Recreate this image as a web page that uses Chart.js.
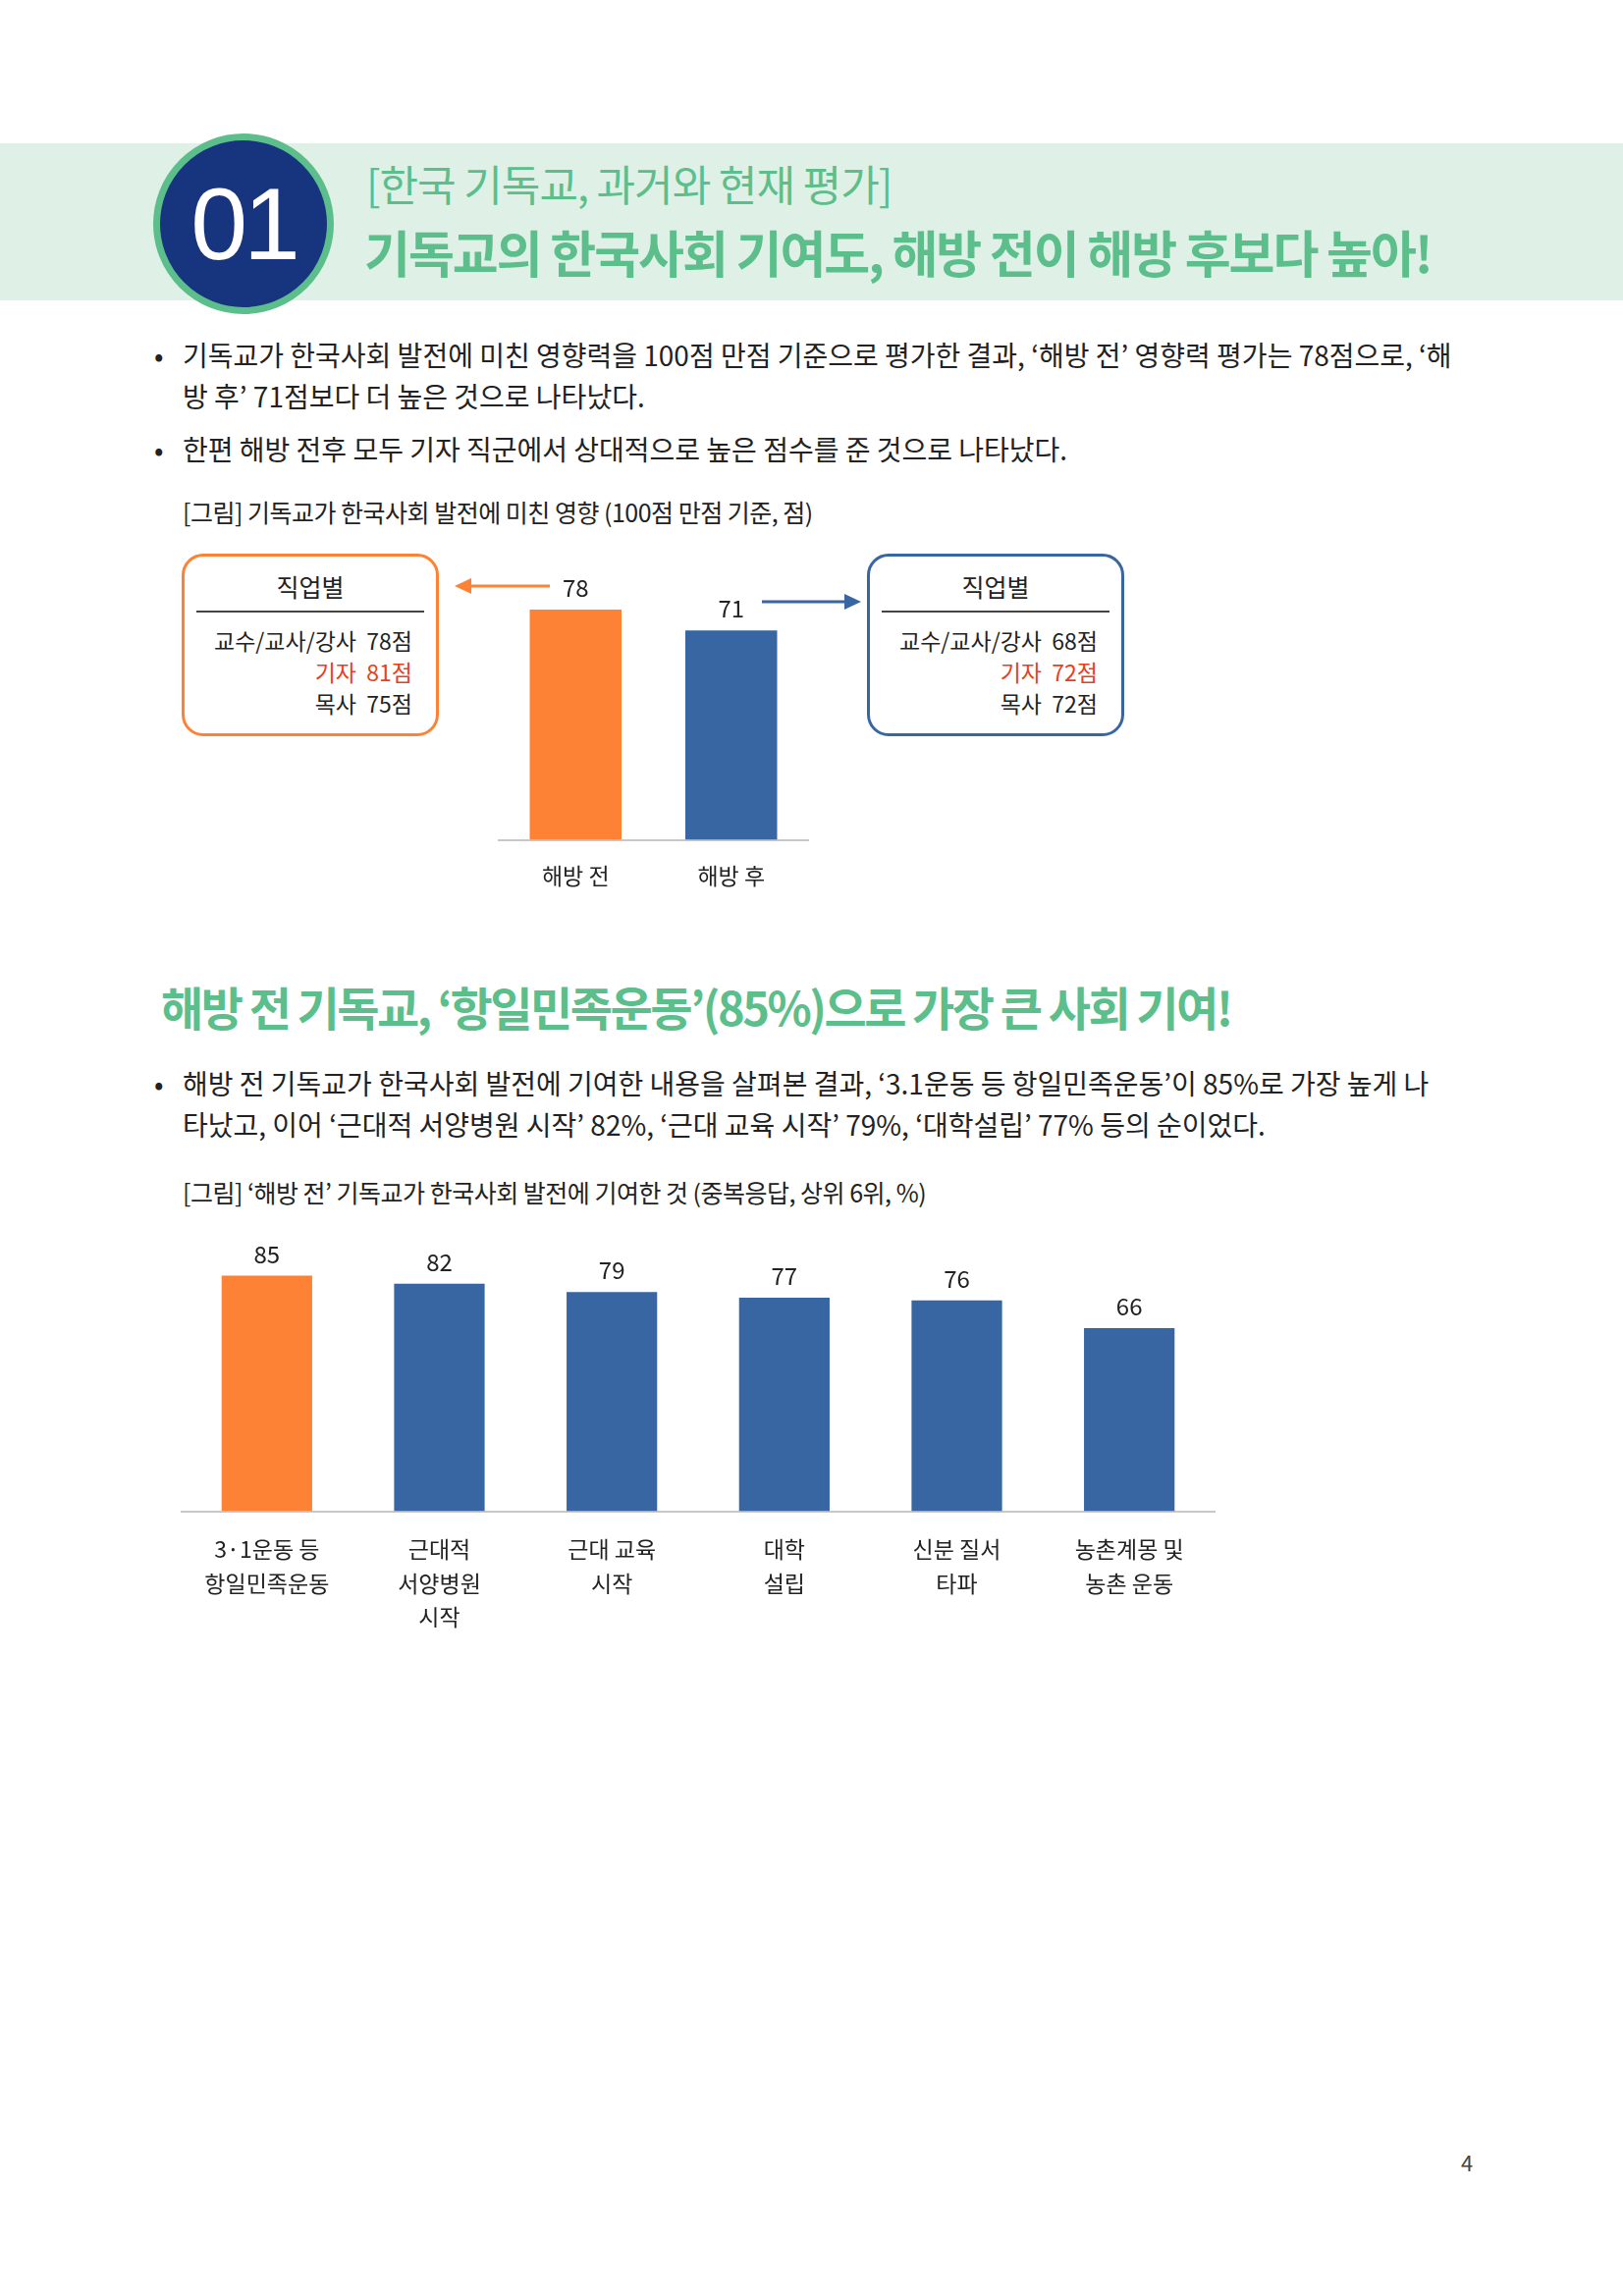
<!DOCTYPE html>
<html><head><meta charset="utf-8">
<script src="https://cdn.jsdelivr.net/npm/chart.js@4/dist/chart.umd.min.js"></script>
<style>
body{margin:0;width:1653px;height:2339px;position:relative;background:#fff;font-family:"Noto Sans CJK KR",sans-serif;color:#222;overflow:hidden}
.a{position:absolute;white-space:nowrap}
.band{left:0;top:146px;width:1653px;height:160px;background:#dff0e6}
.circ{left:156px;top:136px;width:170px;height:170px;border-radius:50%;background:#17347f;border:7px solid #5cbf8b;color:#fff;font-size:104px;line-height:170px;text-align:center;font-family:"Liberation Sans",sans-serif;letter-spacing:-4px}
.g{color:#5cbf8b}
.t{font-size:28px;line-height:42px;letter-spacing:0px}
.cap{font-size:25px;letter-spacing:-0.5px}
.box{position:absolute;top:564px;width:256px;height:180px;border:3px solid;border-radius:22px}
.box .h{position:absolute;left:0;right:0;top:12px;text-align:center;font-size:25px}
.box .r{position:absolute;left:12px;right:12px;top:55px;border-top:2px solid #444}
.box .l{position:absolute;right:24px;font-size:23px;text-align:right}
.red{color:#e8401c}
</style></head><body>
<div class="a band"></div>
<div class="a circ">01</div>
<div class="a g" style="left:373px;top:158px;font-size:43px;letter-spacing:-1px;line-height:56px">[한국 기독교, 과거와 현재 평가]</div>
<div class="a g" style="left:371px;top:224px;font-size:51px;font-weight:bold;letter-spacing:-2px;line-height:64px">기독교의 한국사회 기여도, 해방 전이 해방 후보다 높아!</div>

<div class="a t" style="left:157px;top:340px">•</div>
<div class="a t" style="left:186px;top:340px">기독교가 한국사회 발전에 미친 영향력을 100점 만점 기준으로 평가한 결과, ‘해방 전’ 영향력 평가는 78점으로, ‘해<br>방 후’ 71점보다 더 높은 것으로 나타났다.</div>
<div class="a t" style="left:157px;top:436px">•</div>
<div class="a t" style="left:186px;top:436px">한편 해방 전후 모두 기자 직군에서 상대적으로 높은 점수를 준 것으로 나타났다.</div>
<div class="a cap" style="left:186px;top:503px">[그림] 기독교가 한국사회 발전에 미친 영향 (100점 만점 기준, 점)</div>

<div class="box" style="left:185px;border-color:#fd8235">
 <div class="h">직업별</div><div class="r"></div>
 <div class="l" style="top:68px">교수/교사/강사&nbsp;&nbsp;78점</div>
 <div class="l red" style="top:100px">기자&nbsp;&nbsp;81점</div>
 <div class="l" style="top:132px">목사&nbsp;&nbsp;75점</div>
</div>
<div class="box" style="left:883px;border-color:#3766a3">
 <div class="h">직업별</div><div class="r"></div>
 <div class="l" style="top:68px">교수/교사/강사&nbsp;&nbsp;68점</div>
 <div class="l red" style="top:100px">기자&nbsp;&nbsp;72점</div>
 <div class="l" style="top:132px">목사&nbsp;&nbsp;72점</div>
</div>
<svg class="a" style="left:0;top:0" width="1653" height="900">
 <line x1="560" y1="597" x2="478" y2="597" stroke="#fd8235" stroke-width="3"/>
 <polygon points="463,597 480,589 480,605" fill="#fd8235"/>
 <line x1="776" y1="613" x2="862" y2="613" stroke="#3766a3" stroke-width="3"/>
 <polygon points="877,613 860,605 860,621" fill="#3766a3"/>
</svg>
<div class="a" style="left:507px;top:542px;width:317px;height:380px"><canvas id="c1"></canvas></div>

<div class="a g" style="left:164px;top:990px;font-size:47px;font-weight:bold;letter-spacing:-2.5px">해방 전 기독교, ‘항일민족운동’(85%)으로 가장 큰 사회 기여!</div>
<div class="a t" style="left:157px;top:1082px">•</div>
<div class="a t" style="left:186px;top:1082px">해방 전 기독교가 한국사회 발전에 기여한 내용을 살펴본 결과, ‘3.1운동 등 항일민족운동’이 85%로 가장 높게 나<br>타났고, 이어 ‘근대적 서양병원 시작’ 82%, ‘근대 교육 시작’ 79%, ‘대학설립’ 77% 등의 순이었다.</div>
<div class="a cap" style="left:186px;top:1196px">[그림] ‘해방 전’ 기독교가 한국사회 발전에 기여한 것 (중복응답, 상위 6위, %)</div>
<div class="a" style="left:184px;top:1239px;width:1054px;height:440px"><canvas id="c2"></canvas></div>

<div class="a" style="left:1488px;top:2186px;font-size:22px;color:#444">4</div>

<script>
var cats1 = ['해방 전', '해방 후'];
var vals1 = [78, 71];
var cols1 = ['#fd8235', '#3766a3'];

var cats2 = [['3·1운동 등', '항일민족운동'], ['근대적', '서양병원', '시작'], ['근대 교육', '시작'], ['대학', '설립'], ['신분 질서', '타파'], ['농촌계몽 및', '농촌 운동']];
var vals2 = [85, 82, 79, 77, 76, 66];
var cols2 = ['#fd8235', '#3766a3', '#3766a3', '#3766a3', '#3766a3', '#3766a3'];

var FONT = '"Noto Sans CJK KR", sans-serif';

var valueLabels = {
    id: 'valueLabels',
    afterDatasetsDraw: function (chart) {
        var ctx = chart.ctx;
        var meta = chart.getDatasetMeta(0);
        ctx.save();
        ctx.font = '24px ' + FONT;
        ctx.fillStyle = '#222';
        ctx.textAlign = 'center';
        ctx.textBaseline = 'bottom';
        meta.data.forEach(function (bar, i) {
            ctx.fillText(chart.data.datasets[0].data[i], bar.x, bar.y - 10);
        });
        ctx.restore();
    }
};

function makeChart(id, labels, data, colors, barPct, padTop, tickPad) {
    return new Chart(document.getElementById(id), {
        type: 'bar',
        data: {
            labels: labels,
            datasets: [{ data: data, backgroundColor: colors, borderWidth: 0 }]
        },
        options: {
            responsive: true,
            maintainAspectRatio: false,
            animation: false,
            layout: { padding: { top: padTop, left: 0, right: 0 } },
            plugins: { legend: { display: false }, tooltip: { enabled: false } },
            scales: {
                x: {
                    grid: { display: false },
                    border: { display: true, color: '#c8c8c8', width: 2 },
                    ticks: { color: '#222', font: { family: FONT, size: 23, lineHeight: 1.5 }, padding: tickPad, maxRotation: 0, autoSkip: false }
                },
                y: { display: false, min: 0, max: 100 }
            },
            datasets: { bar: { categoryPercentage: 1, barPercentage: barPct } }
        },
        plugins: [valueLabels]
    });
}

makeChart('c1', cats1, vals1, cols1, 0.59, 13, 12);
makeChart('c2', cats2, vals2, cols2, 0.525, 18, 14);
</script>
</body></html>
